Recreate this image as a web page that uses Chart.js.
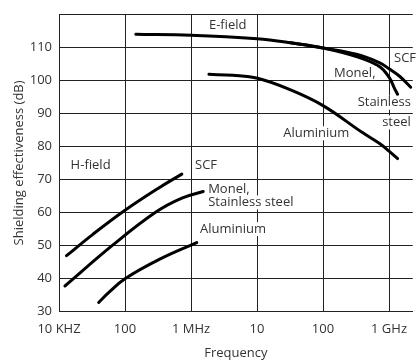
<!DOCTYPE html>
<html>
<head>
<meta charset="utf-8">
<script src="https://cdn.jsdelivr.net/npm/chart.js@4"></script>
<style>
  html, body { margin: 0; padding: 0; background: #fff; }
  #wrap { width: 417px; height: 363px; }
</style>
</head>
<body>
<div id="wrap"><canvas id="chart" width="417" height="363"></canvas></div>
<script>
// frequency in Hz, shielding in dB
const xTickValues = [1e4, 1e5, 1e6, 1e7, 1e8, 1e9];
const xTickLabels = ["10 KHZ", "100", "1 MHz", "10", "100", "1 GHz"];

// H-field curves
const hScfFreq = [1.3e4, 3.26e4, 1e5, 3.25e5, 7.26e5];
const hScfDb = [46.8, 53.3, 60.6, 67.4, 71.6];
const hMonelFreq = [1.23e4, 6.5e4, 2.9e5, 7.26e5, 1.53e6];
const hMonelDb = [37.6, 50.0, 60.0, 64.3, 66.3];
const hAluFreq = [4.0e4, 5.8e4, 1e5, 3.25e5, 1.22e6];
const hAluDb = [32.6, 35.8, 39.8, 45.6, 50.8];

// E-field curves
const eScfFreq = [1.46e5, 1.0e6, 1.0e7, 3.2e7, 1.0e8, 3.2e8, 7.1e8, 1.0e9, 1.43e9, 2.13e9];
const eScfDb = [114.1, 113.8, 112.7, 111.5, 109.9, 108.0, 105.5, 103.6, 101.4, 98.0];
const eMonelFreq = [3.2e7, 1.0e8, 3.2e8, 7.16e8, 1.01e9, 1.2e9, 1.35e9];
const eMonelDb = [111.5, 109.9, 107.3, 104.3, 100.9, 97.8, 95.8];
const eAluFreq = [1.87e6, 4.3e6, 1.02e7, 3.2e7, 1.0e8, 3.9e8, 7.2e8, 1.0e9, 1.35e9];
const eAluDb = [101.9, 101.6, 100.7, 97.2, 92.4, 84.3, 80.9, 78.6, 76.3];

// text notes placed in data units
const noteTexts = ["E-field", "SCF", "Monel,", "Stainless", "steel", "Aluminium",
                   "H-field", "SCF", "Monel,", "Stainless steel", "Aluminium"];
const noteFreq = [1.87e6, 1.19e9, 1.47e8, 2.14e9, 2.14e9, 2.5e7,
                  1.5e4, 1.15e6, 1.82e6, 1.82e6, 1.37e6];
const noteDb = [116.7, 106.8, 102.3, 93.3, 87.3, 84.0,
                74.4, 74.4, 66.9, 63.0, 54.9];
const noteAlign = ["left", "left", "left", "right", "right", "left",
                   "left", "left", "left", "left", "left"];

const FONT = "'Open Sans', sans-serif";
const TEXT = "#333";
const GRID = "#222";

function pts(xs, ys) { return xs.map((x, i) => ({ x: x, y: ys[i] })); }

function curve(xs, ys) {
  return {
    data: pts(xs, ys),
    borderColor: "#000",
    borderWidth: 3,
    pointRadius: 0,
    fill: false,
    tension: 0.4,
    borderCapStyle: "round",
    borderJoinStyle: "round"
  };
}

const notesPlugin = {
  id: "notes",
  afterDatasetsDraw(chart) {
    const ctx = chart.ctx;
    const xs = chart.scales.x, ys = chart.scales.y;
    ctx.save();
    ctx.font = "13px " + FONT;
    ctx.textBaseline = "middle";
    noteTexts.forEach((t, i) => {
      const px = xs.getPixelForValue(noteFreq[i]);
      const py = ys.getPixelForValue(noteDb[i]);
      const w = ctx.measureText(t).width;
      const left = noteAlign[i] === "right" ? px - w : px;
      ctx.fillStyle = "#fff";
      ctx.fillRect(left - 1, py - 7, w + 2, 14);
      ctx.fillStyle = TEXT;
      ctx.textAlign = "left";
      ctx.fillText(t, left, py);
    });
    ctx.restore();
  }
};

new Chart(document.getElementById("chart"), {
  type: "line",
  data: {
    datasets: [
      curve(hScfFreq, hScfDb),
      curve(hMonelFreq, hMonelDb),
      curve(hAluFreq, hAluDb),
      curve(eScfFreq, eScfDb),
      curve(eMonelFreq, eMonelDb),
      curve(eAluFreq, eAluDb)
    ]
  },
  options: {
    responsive: false,
    animation: false,
    events: [],
    layout: { padding: { top: 11, right: 0, left: 0, bottom: 0 } },
    plugins: { legend: { display: false }, tooltip: { enabled: false } },
    scales: {
      x: {
        type: "logarithmic",
        min: 1e4,
        max: 2.29e9,
        afterBuildTicks(scale) {
          scale.ticks = xTickValues.map(v => ({ value: v }));
        },
        afterFit(scale) { scale.height = 52; },
        grid: { color: GRID, lineWidth: 1, drawTicks: false },
        border: { color: GRID, width: 1 },
        ticks: {
          padding: 10,
          maxRotation: 0,
          autoSkip: false,
          color: TEXT,
          font: { family: FONT, size: 13 },
          callback: (v, i) => xTickLabels[i]
        },
        title: {
          display: true,
          text: "Frequency",
          color: TEXT,
          font: { family: FONT, size: 13 },
          padding: { top: 0, bottom: 2 }
        }
      },
      y: {
        min: 30,
        max: 120,
        afterFit(scale) { scale.width = 59; },
        grid: { color: GRID, lineWidth: 1, drawTicks: false },
        border: { color: GRID, width: 1 },
        ticks: {
          stepSize: 10,
          padding: 7,
          color: TEXT,
          font: { family: FONT, size: 13 },
          callback: v => (v === 120 ? "" : String(v))
        },
        title: {
          display: true,
          text: "Shielding effectiveness (dB)",
          color: TEXT,
          font: { family: FONT, size: 13 },
          padding: { top: 11, bottom: 0 }
        }
      }
    }
  },
  plugins: [notesPlugin]
});
</script>
</body>
</html>
